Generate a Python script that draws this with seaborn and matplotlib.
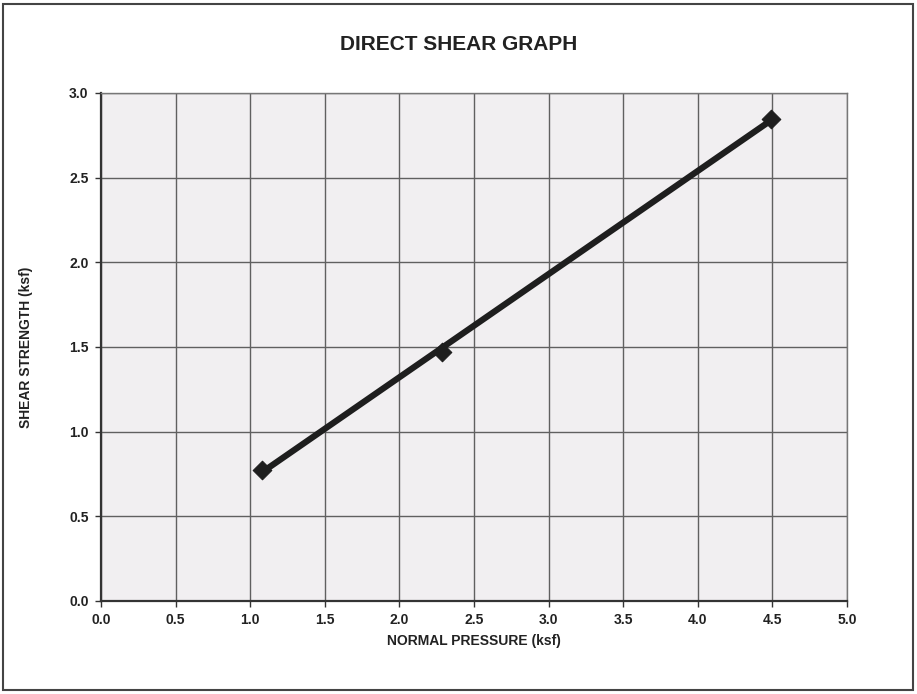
import numpy as np
import pandas as pd
import seaborn as sns
import matplotlib
matplotlib.use("Agg")
import matplotlib.pyplot as plt
from matplotlib.patches import Rectangle

# Direct shear test results
normal_pressure = [1.08, 2.285, 4.49]      # ksf
shear_strength = [0.775, 1.473, 2.846]     # ksf

x_ticks = [0.0, 0.5, 1.0, 1.5, 2.0, 2.5, 3.0, 3.5, 4.0, 4.5, 5.0]
y_ticks = [0.0, 0.5, 1.0, 1.5, 2.0, 2.5, 3.0]

sns.set_theme(style="whitegrid")
plt.rcParams["font.family"] = ["Liberation Sans", "DejaVu Sans"]

df = pd.DataFrame({"normal": normal_pressure, "shear": shear_strength})

fig = plt.figure(figsize=(9.17, 6.94), dpi=100)
ax = fig.add_axes([101 / 917, 93 / 694, 746 / 917, 508 / 694])
ax.set_facecolor("#f1eff1")

# Linear strength envelope fitted through the test points
slope, intercept = np.polyfit(df["normal"], df["shear"], 1)
fit_x = np.array([df["normal"].min(), df["normal"].max()])
fit = pd.DataFrame({"normal": fit_x, "shear": slope * fit_x + intercept})
sns.lineplot(data=fit, x="normal", y="shear", ax=ax, color="#1e1e1e",
             linewidth=4.5, zorder=3)

sns.scatterplot(data=df, x="normal", y="shear", ax=ax, marker="D", s=90,
                color="#1e1e1e", edgecolor="#1e1e1e", zorder=4)

ax.set_xlim(0, 5)
ax.set_ylim(0, 3)
ax.set_xticks(x_ticks)
ax.set_yticks(y_ticks)
ax.set_xticklabels([f"{v:.1f}" for v in x_ticks], fontsize=10, fontweight="bold", color="#222222")
ax.set_yticklabels([f"{v:.1f}" for v in y_ticks], fontsize=10, fontweight="bold", color="#222222")
ax.grid(True, color="#606060", linewidth=1.0)
ax.tick_params(axis="both", which="major", length=4, width=1, color="#333333",
               direction="out", pad=5, bottom=True, left=True)
for side in ["left", "bottom"]:
    ax.spines[side].set_color("#333333")
    ax.spines[side].set_linewidth(1.6)
for side in ["top", "right"]:
    ax.spines[side].set_color("#777777")
    ax.spines[side].set_linewidth(1.0)

ax.set_xlabel("NORMAL PRESSURE (ksf)", fontsize=10, fontweight="bold", color="#222222", labelpad=5)
ax.set_ylabel("SHEAR STRENGTH (ksf)", fontsize=10, fontweight="bold", color="#222222", labelpad=26)

fig.text(0.5, 1 - 44 / 694, "DIRECT SHEAR GRAPH", ha="center", va="center",
         fontsize=15, fontweight="bold", color="#222222")

# Outer frame around the whole graph
fig.patches.append(Rectangle((3 / 917, 4 / 694), 910 / 917, 686 / 694,
                             transform=fig.transFigure, fill=False,
                             edgecolor="#444444", linewidth=1.5))

fig.savefig("out.png", dpi=100)
